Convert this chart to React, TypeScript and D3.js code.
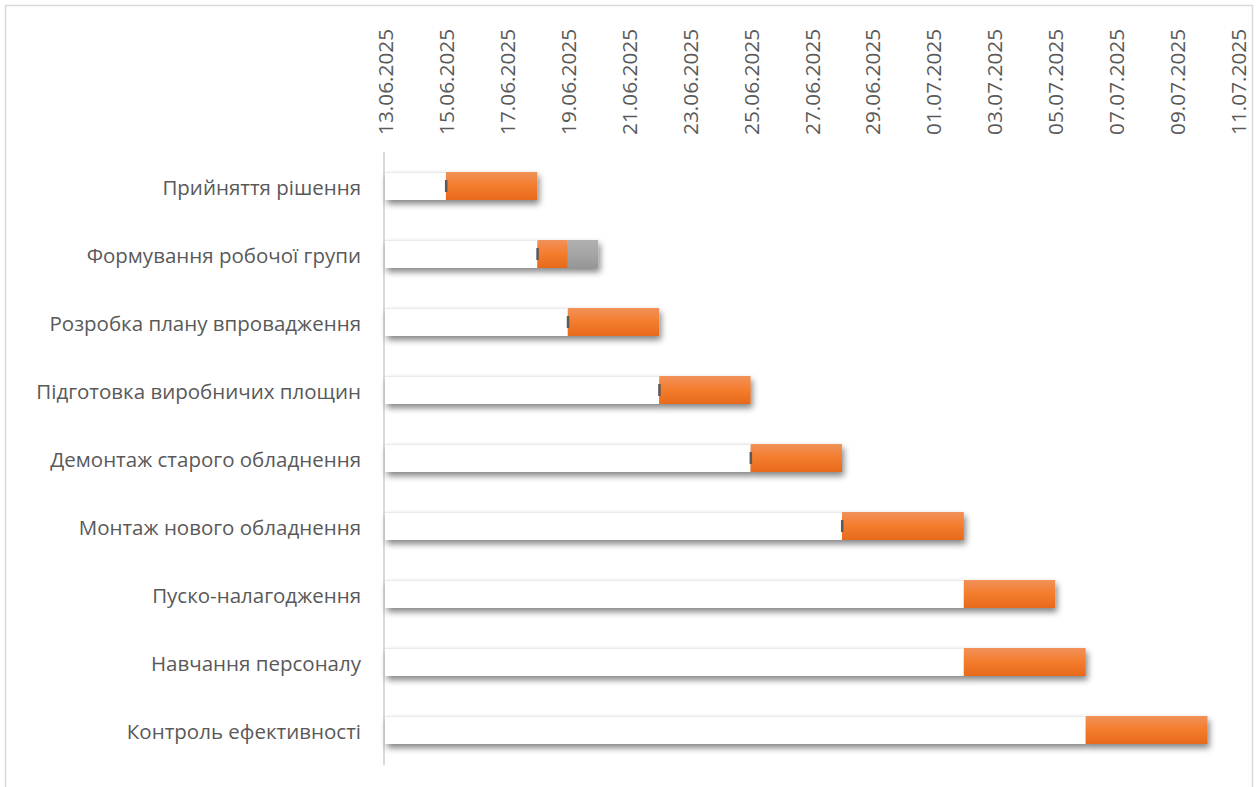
import React from "react";
import * as d3 from "d3";

const tasks = [
  "Прийняття рішення",
  "Формування робочої групи",
  "Розробка плану впровадження",
  "Підготовка виробничих площин",
  "Демонтаж старого обладнення",
  "Монтаж нового обладнення",
  "Пуско-налагодження",
  "Навчання персоналу",
  "Контроль ефективності",
];
const startDates = [
  "15.06.2025",
  "18.06.2025",
  "19.06.2025",
  "22.06.2025",
  "25.06.2025",
  "28.06.2025",
  "02.07.2025",
  "02.07.2025",
  "06.07.2025",
];
const durations = [3, 1, 3, 3, 3, 4, 3, 4, 4];
const delays = [0, 1, 0, 0, 0, 0, 0, 0, 0];
const startMarks = [true, true, true, true, true, true, false, false, false];
const axisMin = "13.06.2025";
const axisMax = "11.07.2025";

const parse = d3.timeParse("%d.%m.%Y");
const fmt = d3.timeFormat("%d.%m.%Y");

export default function App() {
  const W = 1259;
  const H = 787;
  const x = d3
    .scaleTime()
    .domain([parse(axisMin)!, parse(axisMax)!])
    .range([385, 1238]);
  const y = d3
    .scaleBand<string>()
    .domain(tasks)
    .range([152, 764])
    .paddingInner(0.5882)
    .paddingOuter(0.2941);
  const ticks = d3.timeDay.range(parse(axisMin)!, d3.timeDay.offset(parse(axisMax)!, 1), 2);
  const bh = y.bandwidth();
  const font = "'Open Sans', 'Noto Sans', sans-serif";
  const textColor = "#595959";

  const rows = tasks.map((t, i) => {
    const s = parse(startDates[i])!;
    const e = d3.timeDay.offset(s, durations[i]);
    const e2 = d3.timeDay.offset(e, delays[i]);
    return { t, s, e, e2, i };
  });

  return (
    <svg
      width={W}
      height={H}
      style={{ position: "absolute", left: 0, top: 0, background: "#fff" }}
    >
      <defs>
        <linearGradient id="orangeGrad" x1="0" y1="0" x2="0" y2="1">
          <stop offset="0" stopColor="#F1915A" />
          <stop offset="0.5" stopColor="#F47C2B" />
          <stop offset="1" stopColor="#E66A1B" />
        </linearGradient>
        <linearGradient id="grayGrad" x1="0" y1="0" x2="0" y2="1">
          <stop offset="0" stopColor="#B1B1B1" />
          <stop offset="0.5" stopColor="#A5A5A5" />
          <stop offset="1" stopColor="#969696" />
        </linearGradient>
        <filter id="shadow" x="-10%" y="-40%" width="130%" height="200%">
          <feDropShadow dx="2" dy="4" stdDeviation="3.2" floodColor="#000" floodOpacity="0.48" />
        </filter>
      </defs>
      <rect x={5.5} y={5.5} width={1247} height={H + 20} fill="#fff" stroke="#D9D9D9" strokeWidth={1.5} />

      {/* axis line */}
      <line x1={384} x2={384} y1={152} y2={765} stroke="#D9D9D9" strokeWidth={2} />

      {/* date labels */}
      {ticks.map((d, i) => (
        <text
          key={i}
          transform={`translate(${x(d)},135) rotate(-90)`}
          textAnchor="start"
          dominantBaseline="central"
          fontFamily={font}
          fontSize={20.8}
          fill={textColor}
        >
          {fmt(d)}
        </text>
      ))}

      {/* category labels */}
      {rows.map((r) => (
        <text
          key={r.t}
          x={361}
          y={y(r.t)! + bh / 2 + 1}
          textAnchor="end"
          dominantBaseline="central"
          fontFamily={font}
          fontSize={20.5}
          fill={textColor}
        >
          {r.t}
        </text>
      ))}

      {/* bars */}
      {rows.map((r) => {
        const y0 = y(r.t)!;
        const x0 = x(parse(axisMin)!);
        return (
          <g key={r.t}>
            <g filter="url(#shadow)">
              <rect x={x0} y={y0} width={x(r.s) - x0} height={bh} fill="#FFFFFF" />
              <rect x={x(r.s)} y={y0} width={x(r.e) - x(r.s)} height={bh} fill="url(#orangeGrad)" />
              {r.e2 > r.e && (
                <rect x={x(r.e)} y={y0} width={x(r.e2) - x(r.e)} height={bh} fill="url(#grayGrad)" />
              )}
            </g>
            <line x1={x0} x2={x(r.s)} y1={y0 + 0.5} y2={y0 + 0.5} stroke="#EAEAEA" strokeWidth={1} />
            {startMarks[r.i] && (
              <rect x={x(r.s) - 1} y={y0 + bh / 2 - 6} width={2.5} height={12} fill="#5a5a5a" />
            )}
          </g>
        );
      })}
    </svg>
  );
}
